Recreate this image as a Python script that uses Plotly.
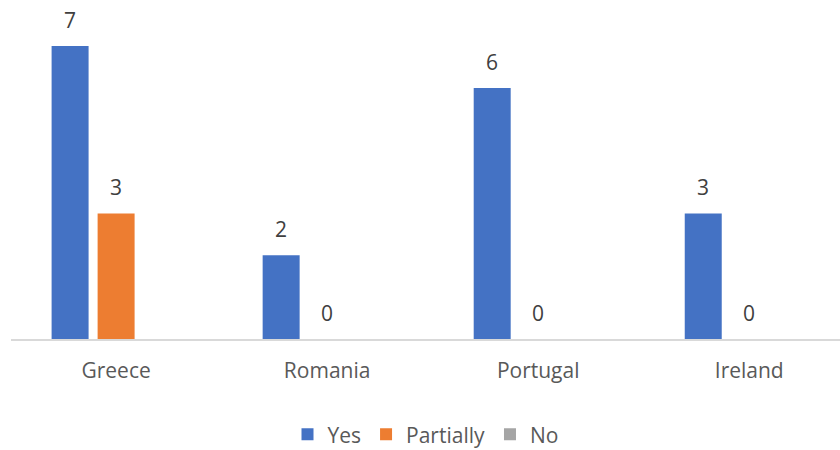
import plotly.graph_objects as go

countries = ["Greece", "Romania", "Portugal", "Ireland"]
yes_vals = [7, 2, 6, 3]
partial_vals = [3, 0, 0, 0]
no_vals = [None, None, None, None]

series = [
    ("Yes", yes_vals, "#4472C4", -46),
    ("Partially", partial_vals, "#ED7D31", 0),
    ("No", no_vals, "#A5A5A5", 46),
]

FONT = "Open Sans, Noto Sans, sans-serif"

fig = go.Figure()
annotations = []
for name, vals, color, shift in series:
    fig.add_trace(go.Bar(
        name=name, x=countries, y=vals,
        marker=dict(color=color, line=dict(width=0)),
        hoverinfo="skip",
    ))
    for c, v in zip(countries, vals):
        if v is None:
            continue
        annotations.append(dict(
            x=c, y=v, xref="x", yref="y", text=str(v), showarrow=False,
            xshift=shift, yshift=26, yanchor="middle",
            font=dict(family=FONT, size=21, color="#404040"),
        ))

fig.update_layout(
    width=840, height=450,
    margin=dict(l=11, r=0, t=21, b=111, autoexpand=False),
    paper_bgcolor="white", plot_bgcolor="white",
    barmode="group", bargap=0.346, bargroupgap=0.196,
    font=dict(family=FONT, size=21, color="#595959"),
    annotations=annotations,
    showlegend=True,
    legend=dict(orientation="h", x=0.5, xanchor="center", xref="paper",
                y=0.034, yanchor="middle", yref="container",
                font=dict(size=21, color="#595959"), itemwidth=30, traceorder="normal"),
    xaxis=dict(range=[-0.498, 3.43], showgrid=False, showline=True, linecolor="#D9D9D9",
               linewidth=2, ticks="", ticklabelstandoff=12,
               tickfont=dict(size=21, color="#595959")),
    yaxis=dict(range=[0, 7.6], visible=False),
)

fig.write_html("out.html")
